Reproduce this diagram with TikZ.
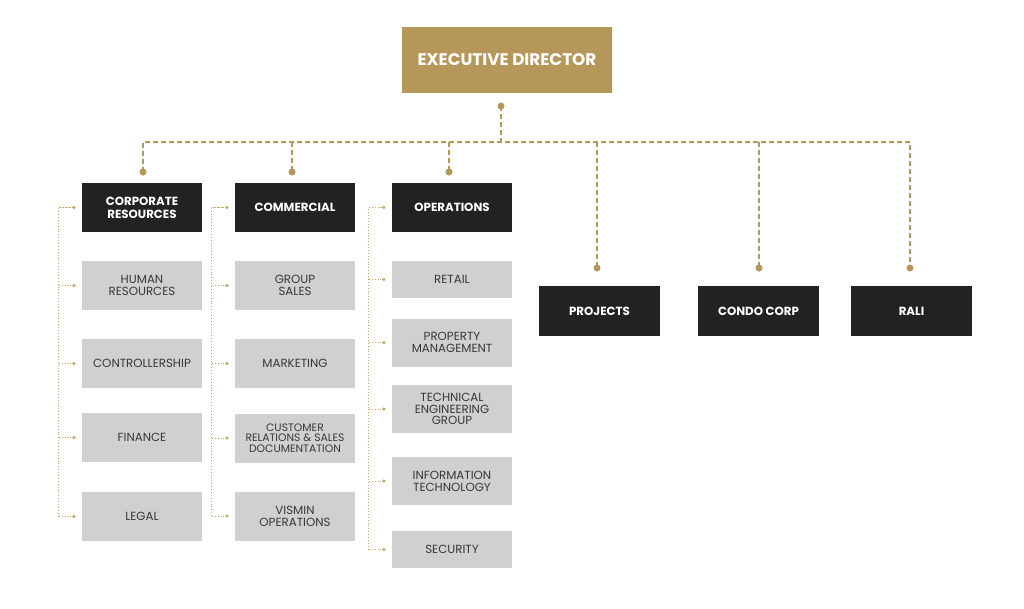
\documentclass[tikz,border=0pt]{standalone}
\usepackage{fontspec}
\setmainfont{Poppins}
\definecolor{gold}{HTML}{B5975A}
\definecolor{goldl}{HTML}{C8A465}
\definecolor{dark}{HTML}{222222}
\definecolor{lgray}{HTML}{D0D0D0}
\definecolor{gtext}{HTML}{383838}
\begin{document}
\begin{tikzpicture}[x=1pt,y=-1pt,
  base/.style={rectangle, inner sep=0pt, minimum width=120pt, align=center},
  edbox/.style={base, fill=gold, text=white, minimum width=210pt, minimum height=66pt, font=\fontsize{16.8}{19}\selectfont\bfseries},
  hbox/.style={base, fill=dark, text=white, minimum height=49pt, font=\fontsize{11.8}{13}\selectfont\bfseries},
  gbox/.style={base, fill=lgray, text=gtext, minimum height=49pt, font=\fontsize{11.8}{11.8}\selectfont},
  bus/.style={gold, line width=1.6pt, dash pattern=on 5pt off 3pt},
  bdot/.style={circle, fill=gold, inner sep=0pt, minimum size=7pt},
  brk/.style={goldl, line width=0.9pt, dotted},
  sdot/.style={circle, fill=goldl, inner sep=0pt, minimum size=3.5pt}
]
\useasboundingbox[fill=white] (0,0) rectangle (1024,608);

% top
\node[edbox] (ed) at (507,60) {EXECUTIVE DIRECTOR};

% column 1
\node[hbox] (cr) at (142,207.5) {CORPORATE\\RESOURCES};
\node[gbox] (hr) at (142,285.5) {HUMAN\\RESOURCES};
\node[gbox] (ctl) at (142,363.5) {CONTROLLERSHIP};
\node[gbox] (fin) at (142,437.5) {FINANCE};
\node[gbox] (leg) at (142,516.5) {LEGAL};

% column 2
\node[hbox] (com) at (295,207.5) {COMMERCIAL};
\node[gbox] (gs) at (295,285.5) {GROUP\\SALES};
\node[gbox] (mkt) at (295,363.5) {MARKETING};
\node[gbox, font=\fontsize{10.8}{10.4}\selectfont] (crs) at (295,438) {CUSTOMER\\RELATIONS \& SALES\\DOCUMENTATION};
\node[gbox] (vis) at (295,516) {VISMIN\\OPERATIONS};

% column 3
\node[hbox] (ops) at (452,207.5) {OPERATIONS};
\node[gbox, minimum height=37pt] (ret) at (452,279.5) {RETAIL};
\node[gbox, minimum height=48pt] (pm) at (452,342.5) {PROPERTY\\MANAGEMENT};
\node[gbox, minimum height=48pt, font=\fontsize{11.8}{11.4}\selectfont] (teg) at (452,409) {TECHNICAL\\ENGINEERING\\GROUP};
\node[gbox, minimum height=48pt] (it) at (452,481) {INFORMATION\\TECHNOLOGY};
\node[gbox, minimum height=37pt] (sec) at (452,549.5) {SECURITY};

% right
\node[hbox, minimum width=121pt, minimum height=50pt] (prj) at (599.5,311) {PROJECTS};
\node[hbox, minimum width=121pt, minimum height=50pt] (cc) at (758.5,311) {CONDO CORP};
\node[hbox, minimum width=121pt, minimum height=50pt] (rali) at (911.5,311) {RALI};

% bus
\coordinate (busy) at (0,142);
\node[bdot] (edd) at (501,106) {};
\node[bdot] (d1) at (143,172) {};
\node[bdot] (d2) at (292,172) {};
\node[bdot] (d3) at (449,172) {};
\node[bdot] (d4) at (597,268) {};
\node[bdot] (d5) at (759,268) {};
\node[bdot] (d6) at (910,268) {};

\draw[bus] (edd.center) -- (edd.center |- busy);
\draw[bus] (d1.center) -- (d1.center |- busy) -- (d6.center |- busy) -- (d6.center);
\foreach \d in {d2,d3,d4,d5}
  \draw[bus] (\d.center |- busy) -- (\d.center);

% brackets
\newcommand{\bracket}[3]{%
  \draw[brk] ([xshift=-23pt]#2.west) |- ([xshift=-23pt]#1.west) -- ([xshift=-8pt]#1.west);
  \foreach \n in {#3}{
    \draw[brk] ([xshift=-23pt]\n.west) -- ([xshift=-8pt]\n.west);
    \node[sdot] at ([xshift=-8pt]\n.west) {};
  }
}
\bracket{cr}{leg}{cr,hr,ctl,fin,leg}
\bracket{com}{vis}{com,gs,mkt,crs,vis}
\bracket{ops}{sec}{ops,ret,pm,teg,it,sec}
\end{tikzpicture}
\end{document}
